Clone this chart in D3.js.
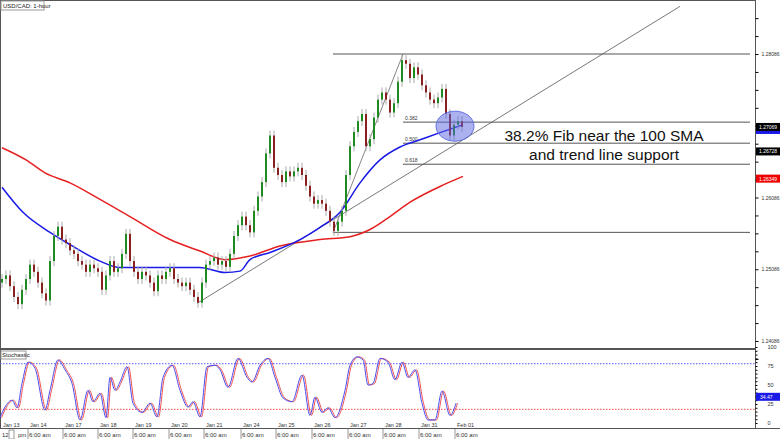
<!DOCTYPE html>
<html><head><meta charset="utf-8">
<script src="https://cdn.jsdelivr.net/npm/d3@7"></script>
<style>body{margin:0;background:#fff}svg{display:block}text{font-family:Arial,"Liberation Sans",sans-serif}</style>
</head><body><svg id="c" width="780" height="439"></svg>
<script>
const closes=[1.2495,1.2500,1.2485,1.2470,1.2460,1.2480,1.2495,1.2515,1.2505,1.2490,1.2475,1.2465,1.2520,1.2555,1.2568,1.2550,1.2545,1.2535,1.2530,1.2520,1.2515,1.2505,1.2515,1.2510,1.2505,1.2480,1.2500,1.2520,1.2505,1.2510,1.2530,1.2558,1.2520,1.2505,1.2495,1.2505,1.2500,1.2490,1.2478,1.2500,1.2495,1.2505,1.2510,1.2495,1.2490,1.2485,1.2490,1.2480,1.2470,1.2462,1.2490,1.2515,1.2520,1.2525,1.2515,1.2520,1.2512,1.2530,1.2555,1.2570,1.2582,1.2570,1.2560,1.2590,1.2610,1.2630,1.2670,1.2695,1.2650,1.2640,1.2630,1.2645,1.2638,1.2645,1.2650,1.2640,1.2625,1.2610,1.2600,1.2605,1.2600,1.2590,1.2575,1.2562,1.2575,1.2590,1.2640,1.2680,1.2700,1.2715,1.2725,1.2680,1.2690,1.2720,1.2745,1.2755,1.2745,1.2727,1.2740,1.2770,1.2800,1.2795,1.2775,1.2790,1.2780,1.2765,1.2755,1.2745,1.2740,1.2748,1.2760,1.2725,1.2695,1.2710,1.2715,1.2707];
const firstOpen=1.2490;
const sma100Idx=[0,5.25,12,17,24.5,29.5,39.5,49.5,55.75,59.5,62,67,74.5,79.5,84.5,89.5,94.5,99.5,104.5,109.5,115.25];
const sma100=[1.2623,1.2588,1.2560,1.2543,1.2520,1.2511,1.2511,1.2511,1.2504,1.2506,1.2522,1.2532,1.2550,1.2567,1.2588,1.2629,1.2661,1.2679,1.2689,1.2699,1.2710];
const sma200Idx=[0,6,10.75,17,24.5,32,42,49.5,55.75,62,69.5,79.5,87,92,97,102,109.5,115.25];
const sma200=[1.2678,1.2661,1.2643,1.2629,1.2606,1.2582,1.2550,1.2534,1.2522,1.2527,1.2541,1.2550,1.2554,1.2564,1.2582,1.2602,1.2624,1.2638];
const stochIdx=[-0.5,0.75,2.5,3.75,5,6.5,8.25,10.75,12,14,15.75,17.5,19.5,21.5,22.75,24.5,26,27,28.25,29.5,31.25,32.75,35,37,38.75,40.25,42.5,44.5,46.5,47.75,49.5,51.25,53.25,54.5,56.5,59,61.25,62.5,64.5,66.5,68.25,70.25,72.5,75,77,78.25,80,81.5,83.25,85.75,87,88.75,90.25,91.5,92.75,94.5,96.5,98.25,100,101.5,103.25,105,106.5,108.25,110,112,113.5];
const stochK=[7,21,30,20,52,80,72,17,43,83,70,52,4,43,28,39,7,60,43,54,74,26,14,26,8,60,76,43,21,28,8,74,76,70,47,85,60,54,76,85,60,33,28,63,10,34,14,20,7,43,76,87,83,50,52,85,80,57,80,60,70,26,4,4,42,10,26,30];
const priceTicks=[1.28086,1.27086,1.26086,1.25086,1.24086];
const stochTicks=[100,75,50,25,0];
const dayLabels=["Jan 13","Jan 14","Jan 17","Jan 18","Jan 19","Jan 20","Jan 21","Jan 24","Jan 25","Jan 26","Jan 27","Jan 28","Jan 31","Feb 01"];
const dayIdx=[0.25,7,15.75,24.5,33.25,42.25,51,60.25,69,78,87,95.75,104.75,113.75];
const fibLevels=[0.382,0.5,0.618];
const swingHigh=1.28086, swingLow=1.2560;
const trendStart=[48.75,1.2461], trendEnd=[169.5,1.2875];
const swingLineStart=[82.75,1.2560], swingLineEnd=[100.25,1.28086];
const annotation=["38.2% Fib near the 100 SMA","and trend line support"];
const lastLabels=[["1.27069",1.27069,"#000"],["1.26728",1.26728,"#000"],["1.26349",1.26349,"#e00"]];

const svg=d3.select("#c");
const W=755;
const x=d3.scaleLinear().domain([0,115]).range([2,462]);
const y=d3.scaleLinear().domain([1.24086,1.28086]).range([341,54]);
const ys=d3.scaleLinear().domain([0,100]).range([423,347]);

svg.append("rect").attr("x",0.5).attr("y",0.5).attr("width",W).attr("height",348).attr("fill","none").attr("stroke","#555");
svg.append("rect").attr("x",0.5).attr("y",349.5).attr("width",W).attr("height",79).attr("fill","none").attr("stroke","#555");
svg.append("line").attr("x1",0).attr("x2",780).attr("y1",428.5).attr("y2",428.5).attr("stroke","#555");

const ra=svg.append("g").attr("transform",`translate(${W+0.5},0)`);
ra.call(d3.axisRight(y).tickValues(d3.range(1.23836,1.2859,0.0025)).tickSize(3).tickFormat("")).call(g=>g.select(".domain").remove());
priceTicks.forEach(v=>ra.append("text").attr("x",6).attr("y",y(v)+2).attr("font-size",5).attr("fill","#333").text(v.toFixed(5)));
const sa=svg.append("g").attr("transform",`translate(${W+0.5},0)`);
sa.call(d3.axisRight(ys).tickValues(d3.range(0,101,5)).tickSize(2).tickFormat("")).call(g=>g.select(".domain").remove());
stochTicks.forEach(v=>sa.append("text").attr("x",12).attr("y",ys(v)+2).attr("font-size",5.5).attr("fill","#333").text(v));

const yTop=y(swingHigh), yBot=y(swingLow);
svg.append("line").attr("x1",x(82.75)).attr("x2",750).attr("y1",yTop).attr("y2",yTop).attr("stroke","#555");
svg.append("line").attr("x1",x(82.75)).attr("x2",750).attr("y1",yBot).attr("y2",yBot).attr("stroke","#555");
fibLevels.forEach(f=>{const p=swingHigh-(swingHigh-swingLow)*f;
 svg.append("line").attr("x1",x(100.25)).attr("x2",750).attr("y1",y(p)).attr("y2",y(p)).attr("stroke","#555");
 svg.append("text").attr("x",x(100.75)).attr("y",y(p)-2).attr("font-size",5).attr("fill","#333").text(f.toFixed(3));});
svg.append("line").attr("x1",x(trendStart[0])).attr("y1",y(trendStart[1])).attr("x2",x(trendEnd[0])).attr("y2",y(trendEnd[1])).attr("stroke","#555").attr("stroke-width",0.8);
svg.append("line").attr("x1",x(swingLineStart[0])).attr("y1",y(swingLineStart[1])).attr("x2",x(swingLineEnd[0])).attr("y2",y(swingLineEnd[1])).attr("stroke","#666").attr("stroke-width",0.8);

const ln=d3.line().curve(d3.curveMonotoneX);
svg.append("path").attr("d",ln(sma200Idx.map((d,i)=>[x(d),y(sma200[i])]))).attr("fill","none").attr("stroke","#e62020").attr("stroke-width",1.5);
svg.append("path").attr("d",ln(sma100Idx.map((d,i)=>[x(d),y(sma100[i])]))).attr("fill","none").attr("stroke","#1a1ae6").attr("stroke-width",1.5);

const g=svg.append("g");
closes.forEach((c,i)=>{const o=i?closes[i-1]:firstOpen;const hi=Math.max(o,c)+0.0007, lo=Math.min(o,c)-0.0007;
 g.append("line").attr("x1",x(i)).attr("x2",x(i)).attr("y1",y(hi)).attr("y2",y(lo)).attr("stroke","#aaa");
 g.append("rect").attr("x",x(i)-1).attr("width",2).attr("y",y(Math.max(o,c))).attr("height",Math.max(1,Math.abs(y(o)-y(c)))).attr("fill",c>=o?"#1f8a1f":"#8a1f1f");});

svg.append("ellipse").attr("cx",x(113.25)).attr("cy",y(1.2708)).attr("rx",19).attr("ry",15).attr("fill","rgba(90,100,225,0.5)").attr("stroke","#6070e0");

annotation.forEach((t,i)=>svg.append("text").attr("x",604).attr("y",141+i*19).attr("text-anchor","middle").attr("font-size",15.5).attr("fill","#111").text(t));

lastLabels.forEach(([t,v,col])=>{svg.append("rect").attr("x",W+1).attr("y",y(v)-4).attr("width",24).attr("height",8).attr("fill",col);
 svg.append("text").attr("x",W+4).attr("y",y(v)+2).attr("font-size",5).attr("fill","#fff").text(t);});
svg.append("rect").attr("x",W+1).attr("y",y(1.27069)+4).attr("width",24).attr("height",3).attr("fill","#1a1ae6");

svg.append("rect").attr("x",1).attr("y",1).attr("width",43).attr("height",9).attr("fill","#fff").attr("stroke","#999");
svg.append("text").attr("x",3).attr("y",8).attr("font-size",6).attr("fill","#222").text("USD/CAD: 1-hour");

svg.append("line").attr("x1",0).attr("x2",W).attr("y1",ys(78)).attr("y2",ys(78)).attr("stroke","#55f").attr("stroke-dasharray","1.5,1.5");
svg.append("line").attr("x1",0).attr("x2",W).attr("y1",ys(18)).attr("y2",ys(18)).attr("stroke","#e44").attr("stroke-dasharray","1.5,1.5");
const sl=d3.line().curve(d3.curveMonotoneX);
svg.append("path").attr("d",sl(stochIdx.map((d,i)=>[x(d)+1.5,ys(stochK[i])]))).attr("fill","none").attr("stroke","#f05050").attr("stroke-width",1);
svg.append("path").attr("d",sl(stochIdx.map((d,i)=>[x(d),ys(stochK[i])]))).attr("fill","none").attr("stroke","#4a4af0").attr("stroke-width",1);
svg.append("rect").attr("x",1).attr("y",351).attr("width",25).attr("height",8).attr("fill","#fff").attr("stroke","#999");
svg.append("text").attr("x",2).attr("y",357).attr("font-size",6).attr("fill","#222").text("Stochastic");
svg.append("rect").attr("x",W+1).attr("y",ys(34.47)-4).attr("width",24).attr("height",8).attr("fill","#1a1ae6");
svg.append("text").attr("x",W+5).attr("y",ys(34.47)+2).attr("font-size",5).attr("fill","#fff").text("34.47");

dayIdx.forEach((d,i)=>{svg.append("text").attr("x",x(d)).attr("y",427).attr("font-size",5.5).attr("fill","#333").text(dayLabels[i]);
 if(i>0){svg.append("line").attr("x1",x(d)-2).attr("x2",x(d)-2).attr("y1",429).attr("y2",439).attr("stroke","#999");
 svg.append("text").attr("x",x(d)-1).attr("y",437).attr("font-size",6).attr("fill","#333").text("6:00 am");}});
svg.append("text").attr("x",2).attr("y",437).attr("font-size",6).attr("fill","#333").text("12");
svg.append("rect").attr("x",9).attr("y",430).attr("width",5).attr("height",9).attr("fill","#fff").attr("stroke","#999");
svg.append("text").attr("x",18).attr("y",437).attr("font-size",6).attr("fill","#333").text("pm");
</script></body></html>
